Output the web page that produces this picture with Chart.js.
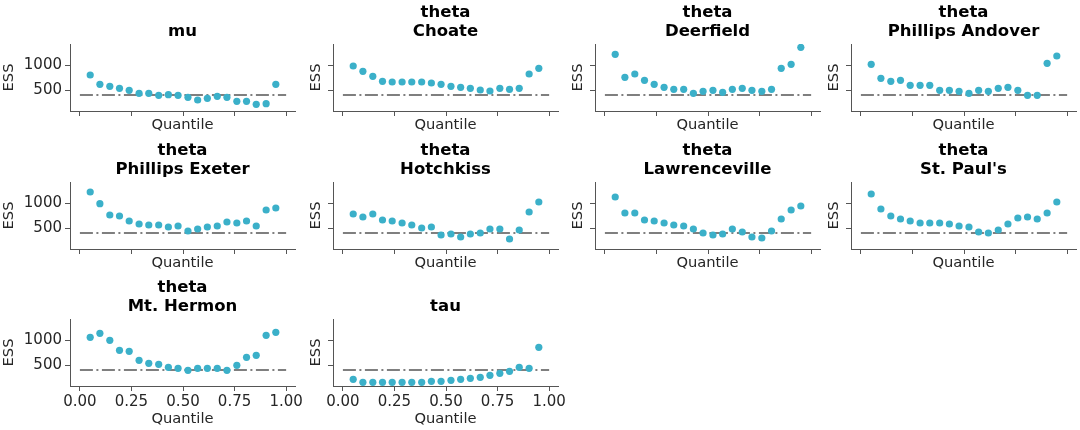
<!DOCTYPE html>
<html>
<head>
<meta charset="utf-8">
<script src="https://cdn.jsdelivr.net/npm/chart.js@4"></script>
<style>
  html, body { margin: 0; padding: 0; background: #fff; overflow: hidden; }
  body { width: 1080px; height: 430px; position: relative; }
  .panel { position: absolute; }
</style>
</head>
<body>
<script>
// Quantiles at which ESS was evaluated
const quantiles = [0.05, 0.097, 0.145, 0.192, 0.239, 0.287, 0.334, 0.382, 0.429, 0.476,
                   0.524, 0.571, 0.618, 0.666, 0.713, 0.761, 0.808, 0.855, 0.903, 0.95];

// ESS values, one array per panel
const essMu = [800, 613, 573, 533, 493, 433, 433, 393, 407, 393, 353, 300, 333, 373, 353, 273, 273, 213, 227, 613];
const essChoate = [980, 873, 773, 673, 660, 660, 660, 660, 640, 613, 573, 553, 533, 500, 480, 533, 513, 533, 820, 933];
const essDeerfield = [1213, 753, 820, 693, 613, 553, 513, 513, 433, 473, 493, 453, 513, 533, 493, 473, 513, 933, 1013, 1353];
const essAndover = [1013, 733, 673, 693, 593, 593, 593, 493, 493, 473, 433, 493, 473, 533, 553, 493, 393, 393, 1033, 1180];
const essExeter = [1220, 987, 760, 740, 640, 580, 560, 560, 520, 540, 440, 480, 520, 540, 620, 600, 640, 540, 860, 900];
const essHotchkiss = [780, 720, 780, 660, 640, 600, 560, 500, 520, 360, 380, 320, 380, 400, 480, 480, 280, 460, 820, 1020];
const essLawrenceville = [1120, 800, 800, 660, 640, 600, 560, 540, 480, 400, 360, 380, 480, 420, 320, 300, 440, 680, 860, 940];
const essStPauls = [1180, 880, 740, 680, 640, 600, 600, 600, 580, 540, 520, 420, 400, 460, 580, 700, 720, 680, 800, 1020];
const essHermon = [1053, 1133, 993, 793, 773, 593, 533, 513, 453, 433, 393, 433, 433, 433, 393, 493, 653, 693, 1093, 1153];
const essTau = [213, 153, 153, 153, 153, 153, 153, 153, 173, 173, 193, 213, 233, 253, 293, 333, 373, 453, 433, 853];

const minEss = 400;
const xTicks = [0, 0.25, 0.5, 0.75, 1.0];
const yTicks = [500, 1000];

const panels = [
  { title: ['mu'], ess: essMu },
  { title: ['theta', 'Choate'], ess: essChoate },
  { title: ['theta', 'Deerfield'], ess: essDeerfield },
  { title: ['theta', 'Phillips Andover'], ess: essAndover },
  { title: ['theta', 'Phillips Exeter'], ess: essExeter },
  { title: ['theta', 'Hotchkiss'], ess: essHotchkiss },
  { title: ['theta', 'Lawrenceville'], ess: essLawrenceville },
  { title: ['theta', "St. Paul's"], ess: essStPauls },
  { title: ['theta', 'Mt. Hermon'], ess: essHermon },
  { title: ['tau'], ess: essTau },
];

// layout of the 4x3 grid (plot area positions in px)
const colLeft = [70, 333, 595, 851];
const rowTop = [44, 182, 319];
const plotW = 225, plotH = 67;
const titleH = 44;
const padRight = 12;

const FONT = "'DejaVu Sans', sans-serif";
const POINT_COLOR = 'rgb(59, 176, 201)';
const AXIS_COLOR = '#555555';
const TEXT_COLOR = '#262626';

panels.forEach((p, i) => {
  const row = Math.floor(i / 4), col = i % 4;
  const yW = col === 0 ? 70 : 26;
  const showX = row === 2;
  const xH = showX ? 42 : 23;

  const div = document.createElement('div');
  div.className = 'panel';
  div.style.left = (colLeft[col] - yW) + 'px';
  div.style.top = (rowTop[row] - titleH) + 'px';
  div.style.width = (yW + plotW + padRight) + 'px';
  div.style.height = (titleH + plotH + xH) + 'px';
  const canvas = document.createElement('canvas');
  div.appendChild(canvas);
  document.body.appendChild(div);

  const pts = quantiles.map((q, k) => ({ x: q, y: p.ess[k] }));
  const twoLines = p.title.length === 2;

  new Chart(canvas, {
    type: 'scatter',
    data: {
      datasets: [
        {
          data: pts,
          backgroundColor: POINT_COLOR,
          borderWidth: 0,
          pointRadius: 3.6,
          pointHoverRadius: 3.6,
        },
        {
          data: [{ x: 0, y: minEss }, { x: 1, y: minEss }],
          showLine: true,
          borderColor: '#7f7f7f',
          borderWidth: 2,
          borderDash: [13, 3.5, 2, 3.5],
          pointRadius: 0,
        },
      ]
    },
    options: {
      responsive: true,
      maintainAspectRatio: false,
      animation: false,
      events: [],
      layout: { padding: { left: 0, right: padRight, top: 0, bottom: 0 } },
      plugins: {
        legend: { display: false },
        tooltip: { enabled: false },
        title: {
          display: true,
          text: p.title,
          fullSize: false,
          color: '#000',
          font: { family: FONT, size: 16.5, weight: 'bold', lineHeight: 1.2 },
          padding: { top: twoLines ? 2.4 : 22.2, bottom: 2 },
        },
      },
      scales: {
        x: {
          type: 'linear',
          min: -0.048,
          max: 1.043,
          afterBuildTicks: s => { s.ticks = xTicks.map(v => ({ value: v })); },
          afterFit: s => { s.height = xH; },
          border: { display: true, color: AXIS_COLOR, width: 1 },
          grid: { drawOnChartArea: false, drawTicks: true, tickLength: 5, tickColor: AXIS_COLOR },
          ticks: {
            color: TEXT_COLOR,
            font: { family: FONT, size: 15 },
            padding: 2,
            maxRotation: 0,
            callback: v => showX ? v.toFixed(2) : '',
          },
          title: {
            display: true,
            text: 'Quantile',
            color: TEXT_COLOR,
            font: { family: FONT, size: 14.7, lineHeight: 1.2 },
            padding: 0,
          },
        },
        y: {
          type: 'linear',
          min: 80,
          max: 1420,
          afterBuildTicks: s => { s.ticks = yTicks.map(v => ({ value: v })); },
          afterFit: s => { s.width = yW; },
          border: { display: true, color: AXIS_COLOR, width: 1 },
          grid: { drawOnChartArea: false, drawTicks: true, tickLength: 5, tickColor: AXIS_COLOR },
          ticks: {
            color: TEXT_COLOR,
            font: { family: FONT, size: 15 },
            padding: 3,
            callback: v => col === 0 ? String(v) : '',
          },
          title: {
            display: true,
            text: 'ESS',
            color: TEXT_COLOR,
            font: { family: FONT, size: 14.7, lineHeight: 1.2 },
            padding: 0,
          },
        },
      },
    },
  });
});
</script>
</body>
</html>
